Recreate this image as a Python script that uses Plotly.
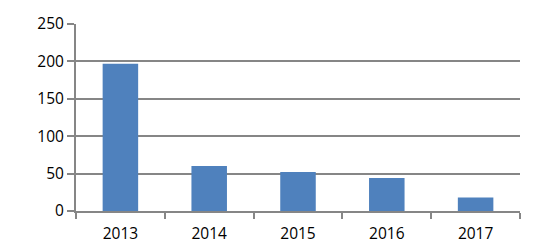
import plotly.graph_objects as go

years = ["2013", "2014", "2015", "2016", "2017"]
values = [197, 60, 52, 44, 18]
y_ticks = [0, 50, 100, 150, 200, 250]

grid = "#868686"
fig = go.Figure(go.Bar(x=years, y=values, marker=dict(color="#4F81BD", line=dict(width=0))))
fig.update_layout(
    width=544, height=251,
    margin=dict(l=76, r=24, t=24, b=40, autoexpand=False),
    plot_bgcolor="white", paper_bgcolor="white",
    bargap=0.6,
    showlegend=False,
    font=dict(family="Open Sans", size=15.5, color="#000000"),
)
fig.update_xaxes(
    type="category", tickson="boundaries", ticks="outside", ticklen=6, tickwidth=2,
    tickcolor=grid, showline=True, linecolor=grid, linewidth=2, showgrid=False,
    tickfont=dict(size=15.5), ticklabelstandoff=7, automargin=False,
)
fig.update_yaxes(
    range=[0, 250], tickvals=y_ticks, ticks="outside", ticklen=7, tickwidth=2,
    tickcolor=grid, showline=True, linecolor=grid, linewidth=2,
    showgrid=True, gridcolor=grid, gridwidth=2, zeroline=False,
    tickfont=dict(size=15.5), automargin=False,
)
fig.write_html("out.html")
